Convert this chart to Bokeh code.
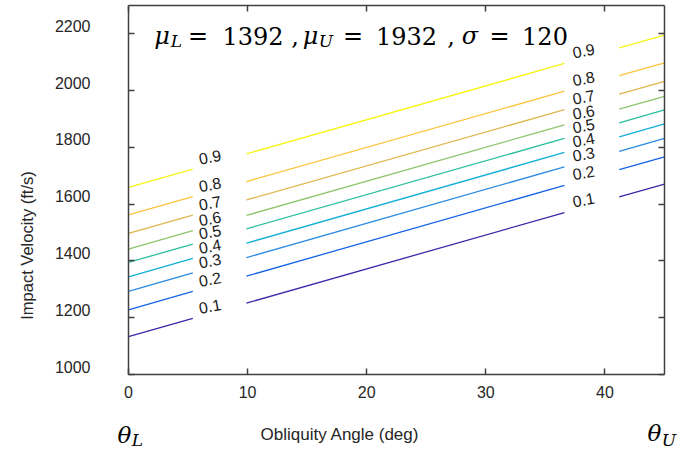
import math
import numpy as np
from bokeh.plotting import figure
from bokeh.models import Range1d, LinearAxis, FixedTicker, Label, CustomJSTickFormatter
from bokeh.core.properties import value
from bokeh.embed import file_html
from bokeh.resources import INLINE

# ---------------- data ----------------
levels = [0.1, 0.2, 0.3, 0.4, 0.5, 0.6, 0.7, 0.8, 0.9]
level_labels = ["0.1", "0.2", "0.3", "0.4", "0.5", "0.6", "0.7", "0.8", "0.9"]
theta_ends = [0, 45]                       # obliquity angle at the two ends (deg)
velocity_at_theta_L = [1133, 1228, 1293, 1344, 1395, 1442, 1497, 1562, 1659]
velocity_at_theta_U = [1671, 1767, 1832, 1883, 1932, 1980, 2033, 2098, 2196]
x_ticks = [0, 10, 20, 30, 40]
y_ticks = [1000, 1200, 1400, 1600, 1800, 2000, 2200]
level_colors = ["#3e26a8", "#1462e6", "#2a8ae0", "#12afd6", "#2bbea0",
                "#8dc46c", "#dfb650", "#fcc43a", "#f4f518"]

# ---------------- layout / style ----------------
FRAME_L, FRAME_R, FRAME_T, FRAME_B = 128, 664, 5, 374
gaps = [(5.4, 9.9), (36.6, 41.2)]          # breaks for inline labels (deg)
label_theta = [6.84, 38.2]
AX = "#404040"
TXT = "#262626"
SANS = "Liberation Sans"
SERIF = "DejaVu Serif"

p = figure(width=683, height=450, x_range=Range1d(0, 45), y_range=Range1d(1000, 2300),
           output_backend="svg", toolbar_location=None,
           x_axis_location=None, y_axis_location=None,
           min_border_left=FRAME_L, min_border_right=683 - FRAME_R,
           min_border_top=FRAME_T, min_border_bottom=450 - FRAME_B)
p.grid.visible = False
p.outline_line_color = None
p.extra_y_ranges = {"ylab": Range1d(1000 - 28, 2300 - 28)}

blank = CustomJSTickFormatter(code="return ''")


def tick_axis(ticks, **kw):
    return LinearAxis(ticker=FixedTicker(ticks=ticks), axis_line_color=AX, axis_line_width=1.5,
                      major_tick_line_color=AX, major_tick_line_width=1.5,
                      major_tick_in=6, major_tick_out=0, minor_tick_line_color=None, **kw)


bottom = tick_axis(x_ticks, major_label_standoff=11, major_label_text_font=SANS,
                   major_label_text_font_size="16px", major_label_text_color=TXT)
p.add_layout(bottom, "below")
left = tick_axis(y_ticks, formatter=blank, major_label_text_font_size="0px", major_label_standoff=0)
p.add_layout(left, "left")
left_lab = LinearAxis(y_range_name="ylab", ticker=FixedTicker(ticks=y_ticks), axis_line_color=None,
                      major_tick_line_color=None, minor_tick_line_color=None,
                      major_tick_in=0, major_tick_out=0, major_label_standoff=38,
                      major_label_text_font=SANS, major_label_text_font_size="16px",
                      major_label_text_color=TXT)
p.add_layout(left_lab, "left")
top = tick_axis(x_ticks, formatter=blank, major_label_text_font_size="0px", major_label_standoff=0)
p.add_layout(top, "above")
right = tick_axis(y_ticks, formatter=blank, major_label_text_font_size="0px", major_label_standoff=0)
p.add_layout(right, "right")

# ---------------- contour lines (broken where labels sit) ----------------
bounds = [theta_ends[0]] + [g for pair in gaps for g in pair] + [theta_ends[1]]
xs, ys, cs = [], [], []
for v0, v1, c in zip(velocity_at_theta_L, velocity_at_theta_U, level_colors):
    for a, b in zip(bounds[0::2], bounds[1::2]):
        xx = [a, b]
        xs.append(xx)
        ys.append(list(np.interp(xx, theta_ends, [v0, v1])))
        cs.append(c)
p.multi_line(xs=xs, ys=ys, line_color=cs, line_width=1.3)

# ---------------- inline labels ----------------
lx, ly, lt = [], [], []
for v0, v1, t in zip(velocity_at_theta_L, velocity_at_theta_U, level_labels):
    for th in label_theta:
        lx.append(th)
        ly.append(float(np.interp(th, theta_ends, [v0, v1])))
        lt.append(t)
p.text(x=lx, y=ly, text=lt, angle=0.18, text_align="center", text_baseline="middle",
       y_offset=-7.5, text_font=value(SANS), text_font_size="16px", text_color="#1a1a1a")


# ---------------- annotations ----------------
def mk(text, x, y, size, italic=False, align="center", baseline="alphabetic", angle=0.0,
       font=SERIF, color="black"):
    return Label(x=x, y=y, x_units="screen", y_units="screen",
                 text=text, text_font=font, text_font_size=size,
                 text_font_style="italic" if italic else "normal",
                 text_align=align, text_baseline=baseline, angle=angle, text_color=color)


def center_lab(text, cx, base_y, size, italic=False):
    # inside the frame: coordinates relative to the frame's bottom-left corner
    p.add_layout(mk(text, cx - FRAME_L, FRAME_B - base_y, size, italic=italic), "center")


TB = -9  # baseline correction
center_lab("μ", 161.5, 44 + TB, "24px", italic=True)
center_lab("L", 176, 49.5 + TB, "17px", italic=True)
center_lab("=", 197.5, 44 + TB, "24px")
center_lab("1392", 252.5, 44 + TB, "24px")
center_lab(",", 294.5, 44 + TB, "24px")
center_lab("μ", 310, 44 + TB, "24px", italic=True)
center_lab("U", 325.5, 49.5 + TB, "17px", italic=True)
center_lab("=", 352.5, 44 + TB, "24px")
center_lab("1932", 406, 44 + TB, "24px")
center_lab(",", 450.5, 44 + TB, "24px")
center_lab("σ", 469.5, 44 + TB, "24px", italic=True)
center_lab("=", 499, 44 + TB, "24px")
center_lab("120", 544.5, 44 + TB, "24px")

# Texts outside the frame live in side panels (positions relative to each panel)
p.add_layout(mk("Impact Velocity (ft/s)", 34 - 41, FRAME_B - 245, "16.5px", baseline="middle",
                angle=math.pi / 2, font=SANS, color=TXT), "left")
p.add_layout(mk("θ", 132 - 27, FRAME_B - 443 - TB, "23px", italic=True), "left")
p.add_layout(mk("L", 145 - 16, FRAME_B - 448 - TB, "17px", italic=True), "left")
p.add_layout(mk("U", 668.5 - 664, FRAME_B - 448 - TB, "17px", italic=True), "right")
p.add_layout(mk("Obliquity Angle (deg)", 339.5 - FRAME_L, 421 - 436, "17px", baseline="middle",
                font=SANS, color=TXT), "below")
p.add_layout(mk("θ", 654 - FRAME_L, 449 - 445 - TB, "23px", italic=True), "below")

open("out.html", "w").write(file_html(p, INLINE))
